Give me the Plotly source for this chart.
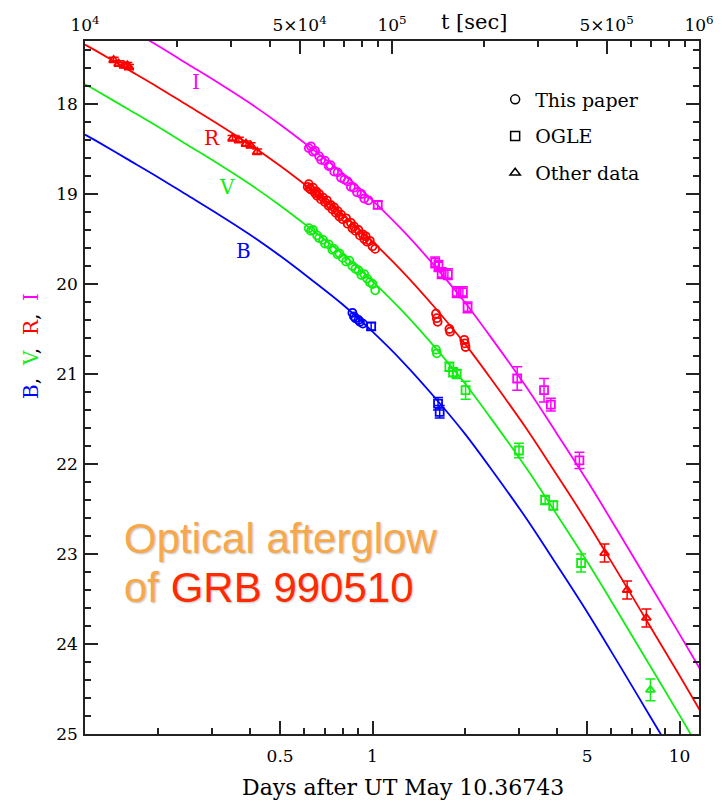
import math
import plotly.graph_objects as go

# ---------------- data (days after UT May 10.36743, magnitudes) ----------------
# sample positions along the fitted light curves, and magnitudes
fit_days = [0.1157, 0.1259, 0.1585, 0.1995, 0.2512, 0.3162, 0.3981, 0.5012, 0.6310,
            0.7943, 1.0, 1.2589, 1.5849, 1.9953, 2.5119, 3.1623, 3.9811, 5.0119,
            6.3096, 7.9433, 10.0, 11.574, 12.589]
R_fit_mag = [17.34, 17.41, 17.61, 17.81, 18.02, 18.23, 18.45, 18.69, 18.95, 19.22,
             19.53, 19.87, 20.25, 20.66, 21.12, 21.60, 22.12, 22.65, 23.21, 23.78,
             24.35, 24.72, 24.94]
I_fit_mag = [16.88, 16.95, 17.15, 17.35, 17.56, 17.77, 17.99, 18.23, 18.49, 18.76,
             19.07, 19.41, 19.79, 20.20, 20.66, 21.14, 21.66, 22.19, 22.75, 23.32,
             23.89, 24.26, 24.48]
V_fit_mag = [17.78, 17.85, 18.05, 18.25, 18.46, 18.67, 18.89, 19.13, 19.39, 19.66,
             19.97, 20.31, 20.69, 21.10, 21.56, 22.04, 22.56, 23.09, 23.65, 24.22,
             24.79, 25.16, 25.38]
B_fit_mag = [18.34, 18.41, 18.61, 18.81, 19.02, 19.23, 19.45, 19.69, 19.95, 20.22,
             20.53, 20.87, 21.25, 21.66, 22.12, 22.60, 23.12, 23.65, 24.21, 24.78,
             25.35, 25.72, 25.94]

# I band
I_paper_days = [0.62, 0.63, 0.64, 0.65, 0.67, 0.68, 0.70, 0.72, 0.73, 0.75,
                0.77, 0.79, 0.81, 0.83, 0.85, 0.87, 0.89, 0.92, 0.94, 0.97]
I_paper_mag = [18.49, 18.47, 18.53, 18.52, 18.58, 18.62, 18.63, 18.69, 18.68, 18.75,
               18.76, 18.82, 18.84, 18.86, 18.92, 18.93, 18.98, 19.00, 19.05, 19.07]
I_ogle_days = [1.04, 1.60, 1.64, 1.68, 1.76, 1.88, 1.97, 2.04, 2.96, 3.62, 3.81, 4.72]
I_ogle_mag = [19.12, 19.76, 19.80, 19.88, 19.89, 20.09, 20.09, 20.26, 21.05, 21.18, 21.34, 21.96]
I_ogle_err = [0.04, 0.06, 0.06, 0.06, 0.06, 0.06, 0.06, 0.06, 0.13, 0.13, 0.07, 0.09]

# R band
R_paper_days = [0.615, 0.62, 0.625, 0.63, 0.64, 0.65, 0.655, 0.66, 0.67, 0.68,
                0.69, 0.70, 0.71, 0.72, 0.73, 0.74, 0.75, 0.76, 0.77, 0.78,
                0.79, 0.80, 0.82, 0.83, 0.85, 0.86, 0.87, 0.88, 0.90, 0.91,
                0.93, 0.94, 0.95, 0.96, 0.98, 1.00, 1.02,
                1.61, 1.62, 1.63, 1.78, 1.79, 1.99, 2.00, 2.01]
R_paper_mag = [18.92, 18.89, 18.94, 18.95, 18.93, 18.99, 18.97, 19.02, 19.00, 19.06,
               19.04, 19.09, 19.07, 19.13, 19.12, 19.17, 19.15, 19.21, 19.19, 19.25,
               19.23, 19.28, 19.27, 19.33, 19.32, 19.38, 19.36, 19.41, 19.40, 19.46,
               19.45, 19.50, 19.47, 19.53, 19.52, 19.58, 19.61,
               20.33, 20.38, 20.42, 20.50, 20.53, 20.62, 20.66, 20.70]
R_other_days = [0.1435, 0.149, 0.155, 0.159, 0.161, 0.350, 0.367, 0.387, 0.401, 0.421,
                5.70, 6.75, 7.80]
R_other_mag = [17.51, 17.55, 17.57, 17.57, 17.59, 18.38, 18.40, 18.44, 18.46, 18.53,
               22.99, 23.40, 23.71]
R_other_err = [0.03, 0.03, 0.03, 0.03, 0.03, 0.03, 0.03, 0.03, 0.03, 0.03,
               0.10, 0.10, 0.10]

# V band
V_paper_days = [0.62, 0.63, 0.64, 0.66, 0.67, 0.69, 0.70, 0.72, 0.74, 0.75,
                0.77, 0.78, 0.80, 0.82, 0.84, 0.86, 0.88, 0.90, 0.92, 0.94,
                0.96, 0.98, 1.00, 1.02, 1.61, 1.62]
V_paper_mag = [19.38, 19.41, 19.40, 19.46, 19.49, 19.51, 19.55, 19.56, 19.62, 19.61,
               19.67, 19.66, 19.71, 19.75, 19.74, 19.80, 19.83, 19.85, 19.90, 19.89,
               19.94, 19.98, 20.00, 20.07, 20.73, 20.77]
V_ogle_days = [1.78, 1.83, 1.88, 2.01, 3.00, 3.65, 3.88, 4.78]
V_ogle_mag = [20.92, 20.98, 21.00, 21.18, 21.85, 22.40, 22.46, 23.10]
V_ogle_err = [0.05, 0.05, 0.05, 0.10, 0.08, 0.05, 0.05, 0.10]
V_other_days = [8.04]
V_other_mag = [24.51]
V_other_err = [0.12]

# B band
B_paper_days = [0.86, 0.87, 0.88, 0.90, 0.91, 0.93]
B_paper_mag = [20.32, 20.36, 20.38, 20.40, 20.42, 20.44]
B_ogle_days = [0.99, 1.635, 1.655]
B_ogle_mag = [20.47, 21.33, 21.42]
B_ogle_err = [0.04, 0.07, 0.07]

# band labels placed next to the curves (day, mag)
band_names = ["I", "R", "V", "B"]
band_label_days = [0.266, 0.300, 0.336, 0.379]
band_label_mag = [17.76, 18.38, 18.92, 19.63]

# axis ticks
day_ticks = [0.5, 1, 5, 10]
day_ticktext = ["0.5", "1", "5", "10"]
day_minor = [0.2, 0.3, 0.4, 0.6, 0.7, 0.8, 0.9, 2, 3, 4, 6, 7, 8, 9]
sec_ticks = [1e4, 5e4, 1e5, 5e5, 1e6]
sec_ticktext = ["10<sup>4</sup>", "5×10<sup>4</sup>", "10<sup>5</sup>",
                "5×10<sup>5</sup>", "10<sup>6</sup>"]
sec_minor = [2e4, 3e4, 4e4, 6e4, 7e4, 8e4, 9e4, 2e5, 3e5, 4e5, 6e5, 7e5, 8e5, 9e5]
mag_ticks = [18, 19, 20, 21, 22, 23, 24, 25]

# ---------------- styling ----------------
COL = {"I": "#ff00ff", "R": "#ff0000", "V": "#11ee11", "B": "#0000ff"}
SERIF = "DejaVu Serif"
SEC_PER_DAY = 86400.0
t0_day = 1e4 / SEC_PER_DAY
t1_day = 1e6 / SEC_PER_DAY
NB = "\u00a0"

fig = go.Figure()

fits = [("I", I_fit_mag), ("R", R_fit_mag), ("V", V_fit_mag), ("B", B_fit_mag)]
for band, m in fits:
    fig.add_trace(go.Scatter(x=fit_days, y=m, mode="lines",
                             line=dict(color=COL[band], width=1.8, shape="spline", smoothing=1.0),
                             showlegend=False, hoverinfo="skip"))


def pts(band, d, m, symbol, err=None, size=8):
    kw = {}
    if err is not None:
        kw["error_y"] = dict(type="data", array=err, visible=True, color=COL[band],
                             thickness=1.5, width=5)
    fig.add_trace(go.Scatter(x=d, y=m, mode="markers",
                             marker=dict(symbol=symbol, size=size, color=COL[band],
                                         line=dict(color=COL[band], width=1.8)),
                             showlegend=False, **kw))


pts("I", I_paper_days, I_paper_mag, "circle-open")
pts("I", I_ogle_days, I_ogle_mag, "square-open", I_ogle_err)
pts("R", R_paper_days, R_paper_mag, "circle-open")
pts("R", R_other_days, R_other_mag, "triangle-up-open", R_other_err)
pts("V", V_paper_days, V_paper_mag, "circle-open")
pts("V", V_ogle_days, V_ogle_mag, "square-open", V_ogle_err)
pts("V", V_other_days, V_other_mag, "triangle-up-open", V_other_err)
pts("B", B_paper_days, B_paper_mag, "circle-open")
pts("B", B_ogle_days, B_ogle_mag, "square-open", B_ogle_err)

# legend entries
for i, (name, sym) in enumerate([("This paper", "circle-open"), ("OGLE", "square-open"),
                                 ("Other data", "triangle-up-open")]):
    fig.add_trace(go.Scatter(x=[None], y=[None], mode="markers", name=name,
                             legendgroup=str(i),
                             marker=dict(symbol=sym, size=9, color="black",
                                         line=dict(color="black", width=1.5))))

# dummy trace on the top (seconds) axis
fig.add_trace(go.Scatter(x=[None], y=[None], xaxis="x2", mode="markers",
                         showlegend=False, hoverinfo="skip"))

annotations = []
for name, d, m in zip(band_names, band_label_days, band_label_mag):
    annotations.append(dict(x=math.log10(d), y=m, xref="x", yref="y", text=name,
                            showarrow=False, font=dict(family=SERIF, size=20, color=COL[name])))

sep = "," + NB + NB
annotations += [
    dict(x=0.518, y=-0.0765, xref="paper", yref="paper", text="Days after UT May 10.36743",
         showarrow=False, xanchor="center", yanchor="middle",
         font=dict(family=SERIF, size=22, color="black")),
    dict(x=0.634, y=1.027, xref="paper", yref="paper", text="t [sec]",
         showarrow=False, xanchor="center", yanchor="middle",
         font=dict(family=SERIF, size=21, color="black")),
    dict(x=-0.088, y=0.56, xref="paper", yref="paper", textangle=-90,
         text=("<span style='color:#0000ff'>B</span>" + sep +
               "<span style='color:#11ee11'>V</span>" + sep +
               "<span style='color:#ff0000'>R</span>" + sep +
               "<span style='color:#ff00ff'>I</span>"),
         showarrow=False, xanchor="center", yanchor="middle",
         font=dict(family=SERIF, size=20, color="black")),
    dict(x=0.060, y=0.2828, xref="paper", yref="paper", text="Optical afterglow",
         showarrow=False, xanchor="left", yanchor="middle",
         font=dict(family="Liberation Sans", size=42, color="#f8a848",
                   shadow="1px 1px 2px rgba(0,0,0,0.25)")),
    dict(x=0.060, y=0.2121, xref="paper", yref="paper",
         text="of <span style='color:#ff2a00'>GRB 990510</span>",
         showarrow=False, xanchor="left", yanchor="middle",
         font=dict(family="Liberation Sans", size=42, color="#f8a848",
                   shadow="1px 1px 2px rgba(0,0,0,0.25)")),
]

axis_common = dict(showgrid=False, zeroline=False, showline=True, linecolor="#222222",
                   linewidth=1.5, ticks="inside", tickcolor="#222222", tickwidth=1.5,
                   automargin=False)

# the page body adds an 8 px offset, so the figure is 8 px smaller than the window
fig.update_layout(
    width=715, height=800,
    margin=dict(l=77, r=24, t=33, b=74),
    paper_bgcolor="white", plot_bgcolor="white",
    font=dict(family=SERIF, size=16, color="black"),
    xaxis=dict(type="log", range=[math.log10(t0_day), math.log10(t1_day)],
               tickvals=day_ticks, ticktext=day_ticktext, ticklen=13, mirror=True,
               ticklabelstandoff=6,
               minor=dict(tickvals=day_minor, ticklen=6, ticks="inside",
                          tickcolor="#222222", tickwidth=1.5),
               tickfont=dict(family=SERIF, size=17), **axis_common),
    xaxis2=dict(type="log", range=[4, 6], overlaying="x", side="top",
                tickvals=sec_ticks, ticktext=sec_ticktext, ticklen=13,
                ticklabelstandoff=1,
                minor=dict(tickvals=sec_minor, ticklen=6, ticks="inside",
                           tickcolor="#222222", tickwidth=1.5),
                tickfont=dict(family=SERIF, size=17), **axis_common),
    yaxis=dict(range=[25, 17.3], tickvals=mag_ticks, ticklen=13, mirror="ticks",
               ticklabelstandoff=2,
               minor=dict(dtick=0.2, ticklen=6, ticks="inside",
                          tickcolor="#222222", tickwidth=1.5),
               tickfont=dict(family=SERIF, size=17), **axis_common),
    legend=dict(x=0.668, y=0.943, xanchor="left", yanchor="top",
                bgcolor="rgba(0,0,0,0)", tracegroupgap=9,
                font=dict(family=SERIF, size=19, color="black")),
    annotations=annotations,
    showlegend=True,
)

fig.write_html("out.html")
